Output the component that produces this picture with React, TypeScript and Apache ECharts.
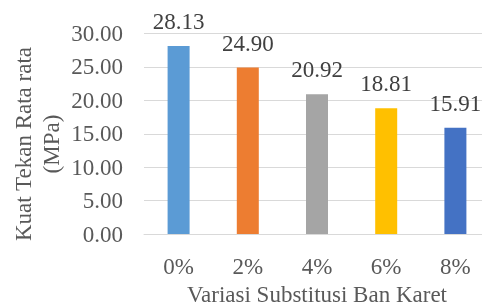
import React, { useEffect, useRef } from "react";
import * as echarts from "echarts";

const categories = ["0%", "2%", "4%", "6%", "8%"];
const values = [28.13, 24.9, 20.92, 18.81, 15.91];
const barColors = ["#5B9BD5", "#ED7D31", "#A5A5A5", "#FFC000", "#4472C4"];
const xTitle = "Variasi Substitusi Ban Karet";
const yTitleLines = ["Kuat Tekan Rata rata", "(MPa)"];

export default function App() {
  const ref = useRef<HTMLDivElement>(null);
  useEffect(() => {
    if (!ref.current) return;
    const chart = echarts.init(ref.current, undefined, { renderer: "svg" });
    const font = "'Liberation Serif', 'Times New Roman', serif";
    chart.setOption({
      animation: false,
      grid: { left: 144, top: 33.5, width: 346, bottom: 73, outerBoundsMode: "none", containLabel: false },
      xAxis: {
        type: "category",
        data: categories,
        axisTick: { show: false },
        axisLine: { lineStyle: { color: "#D9D9D9", width: 1 } },
        axisLabel: { color: "#595959", fontFamily: font, fontSize: 23, margin: 21 },
        name: xTitle,
        nameLocation: "middle",
        nameGap: 50,
        nameTextStyle: { color: "#595959", fontFamily: font, fontSize: 23, lineHeight: 19 },
      },
      yAxis: {
        type: "value",
        min: 0,
        max: 30,
        interval: 5,
        axisLine: { show: false },
        axisTick: { show: false },
        splitLine: { lineStyle: { color: "#D9D9D9", width: 1 } },
        axisLabel: {
          color: "#595959",
          fontFamily: font,
          fontSize: 23,
          margin: 21,
          formatter: (v: number) => v.toFixed(2),
        },
      },
      graphic: yTitleLines.map((t, i) => ({
        type: "text",
        x: 23 + i * 28.5,
        y: 144,
        rotation: Math.PI / 2,
        style: {
          text: t,
          fill: "#595959",
          font: `23px ${font}`,
          textAlign: "center",
          textVerticalAlign: "middle",
        },
      })),
      series: [
        {
          type: "bar",
          data: values.map((v, i) => ({ value: v, itemStyle: { color: barColors[i] } })),
          barWidth: 22,
          label: {
            show: true,
            position: "top",
            distance: 13,
            color: "#404040",
            fontFamily: font,
            fontSize: 23,
            formatter: (p: any) => p.value.toFixed(2),
          },
        },
      ],
    });
    return () => chart.dispose();
  }, []);
  return <div ref={ref} style={{ width: 482, height: 307, position: "fixed", left: 0, top: 0 }} />;
}
